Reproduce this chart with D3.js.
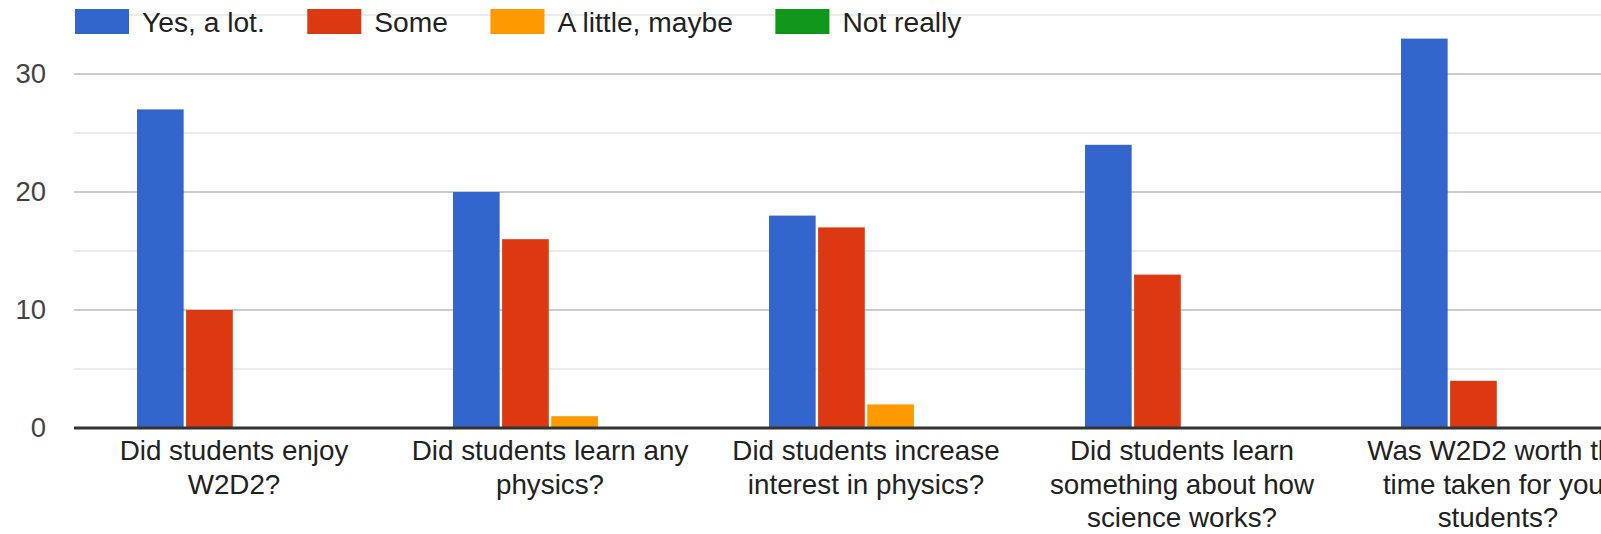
<!DOCTYPE html>
<html>
<head>
<meta charset="utf-8">
<script src="https://cdn.jsdelivr.net/npm/d3@7"></script>
<style>
  html, body { margin: 0; padding: 0; background: #fff; overflow: hidden; }
  svg { display: block; font-family: "Liberation Sans", Arial, sans-serif; }
</style>
</head>
<body>
<svg id="chart" width="1601" height="534"></svg>
<script>
// ---- Data ----
const categories = [
  "Did students enjoy W2D2?",
  "Did students learn any physics?",
  "Did students increase interest in physics?",
  "Did students learn something about how science works?",
  "Was W2D2 worth the time taken for your students?"
];
const categoryLines = [
  ["Did students enjoy", "W2D2?"],
  ["Did students learn any", "physics?"],
  ["Did students increase", "interest in physics?"],
  ["Did students learn", "something about how", "science works?"],
  ["Was W2D2 worth the", "time taken for your", "students?"]
];
const seriesNames = ["Yes, a lot.", "Some", "A little, maybe", "Not really"];
const yesALot   = [27, 20, 18, 24, 33];
const some      = [10, 16, 17, 13, 4];
const aLittle   = [0, 1, 2, 0, 0];
const notReally = [0, 0, 0, 0, 0];
const seriesValues = [yesALot, some, aLittle, notReally];
const colors = ["#3366cc", "#dc3912", "#ff9900", "#109618"];
const majorTicks = [0, 10, 20, 30];
const minorTicks = [5, 15, 25, 35];

// ---- Layout ----
const plotLeft = 74, plotRight = 1700;
const svg = d3.select("#chart");

const y = d3.scaleLinear().domain([0, 35]).range([428, 15]);
const x0 = d3.scaleBand().domain(categories)
  .range([76, 76 + 316 * 5]).paddingInner(0.386).paddingOuter(0.193);
const x1 = d3.scaleBand().domain(seriesNames)
  .range([0, x0.bandwidth()]).paddingInner(0.05).paddingOuter(0);
const color = d3.scaleOrdinal().domain(seriesNames).range(colors);

// Gridlines
svg.append("g").selectAll("line").data(minorTicks).join("line")
  .attr("x1", plotLeft).attr("x2", plotRight)
  .attr("y1", d => y(d)).attr("y2", d => y(d))
  .attr("stroke", "#ebebeb").attr("stroke-width", 2);
svg.append("g").selectAll("line").data(majorTicks.filter(d => d !== 0)).join("line")
  .attr("x1", plotLeft).attr("x2", plotRight)
  .attr("y1", d => y(d)).attr("y2", d => y(d))
  .attr("stroke", "#cccccc").attr("stroke-width", 2);

// Y axis labels via d3 axis
const yAxis = svg.append("g")
  .attr("transform", `translate(${plotLeft},0)`)
  .call(d3.axisLeft(y).tickValues(majorTicks).tickSize(0).tickPadding(28).tickFormat(d3.format("d")));
yAxis.select(".domain").remove();
yAxis.selectAll("text")
  .attr("fill", "#444").style("font-size", "27.5px")
  .style("font-family", "'Liberation Sans', Arial, sans-serif");

// Bars
const groups = svg.append("g").selectAll("g").data(categories).join("g")
  .attr("transform", d => `translate(${x0(d)},0)`);
groups.selectAll("rect")
  .data((c, i) => seriesNames.map((s, j) => ({ s, v: seriesValues[j][i] })))
  .join("rect")
  .filter(d => d.v > 0)
  .attr("x", d => x1(d.s))
  .attr("width", x1.bandwidth())
  .attr("y", d => y(d.v))
  .attr("height", d => y(0) - y(d.v))
  .attr("fill", d => color(d.s));

// Baseline
svg.append("line")
  .attr("x1", plotLeft).attr("x2", plotRight)
  .attr("y1", y(0)).attr("y2", y(0))
  .attr("stroke", "#333").attr("stroke-width", 3);

// Category labels
const labels = svg.append("g").selectAll("text").data(categories).join("text")
  .attr("x", d => x0(d) + x0.bandwidth() / 2)
  .attr("y", 460)
  .attr("text-anchor", "middle")
  .attr("fill", "#222")
  .style("font-size", "27.8px");
labels.each(function(d, i) {
  d3.select(this).selectAll("tspan").data(categoryLines[i]).join("tspan")
    .attr("x", x0(d) + x0.bandwidth() / 2)
    .attr("dy", (t, k) => k === 0 ? 0 : 33.5)
    .text(t => t);
});

// Legend
const legend = svg.append("g");
let lx = 75;
seriesNames.forEach((s, i) => {
  legend.append("rect")
    .attr("x", lx).attr("y", 9).attr("width", 54).attr("height", 25)
    .attr("fill", colors[i]);
  const t = legend.append("text")
    .attr("x", lx + 67).attr("y", 22)
    .attr("dominant-baseline", "central")
    .attr("fill", "#222")
    .style("font-size", "28.2px")
    .text(s);
  const w = t.node().getComputedTextLength();
  lx = lx + 67 + w + 42.5;
});
</script>
</body>
</html>
